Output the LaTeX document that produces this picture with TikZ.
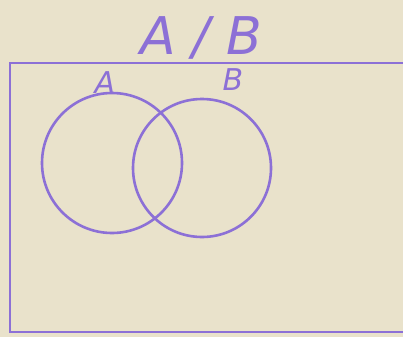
\documentclass[tikz,border=0pt]{standalone}
\usepackage{fontspec}
\setmainfont{DejaVu Sans}
\definecolor{ink}{RGB}{140,112,214}
\definecolor{paper}{RGB}{233,226,203}
\begin{document}
\begin{tikzpicture}[x=1pt,y=-1pt,
  inkline/.style={draw=ink,line width=2.6pt},
  setcircle/.style={circle,inkline,inner sep=0pt},
  hand/.style={text=ink,inner sep=0pt,font=\fontsize{#1}{#1}\selectfont\itshape},
]
\fill[paper] (0,0) rectangle (403,337);
\useasboundingbox (0,0) rectangle (403,337);
\node[hand=52] (title) at (201,38) {A / B};
\draw[inkline] (404,63) -- (10,63) -- (10,332) -- (404,332);
\node[setcircle,minimum size=140pt] (setA) at (112,163) {};
\node[setcircle,minimum size=138pt] (setB) at (202,168) {};
\node[hand=30] (labelA) at (105,83) {A};
\node[hand=30] (labelB) at (233,80) {B};
\end{tikzpicture}
\end{document}
